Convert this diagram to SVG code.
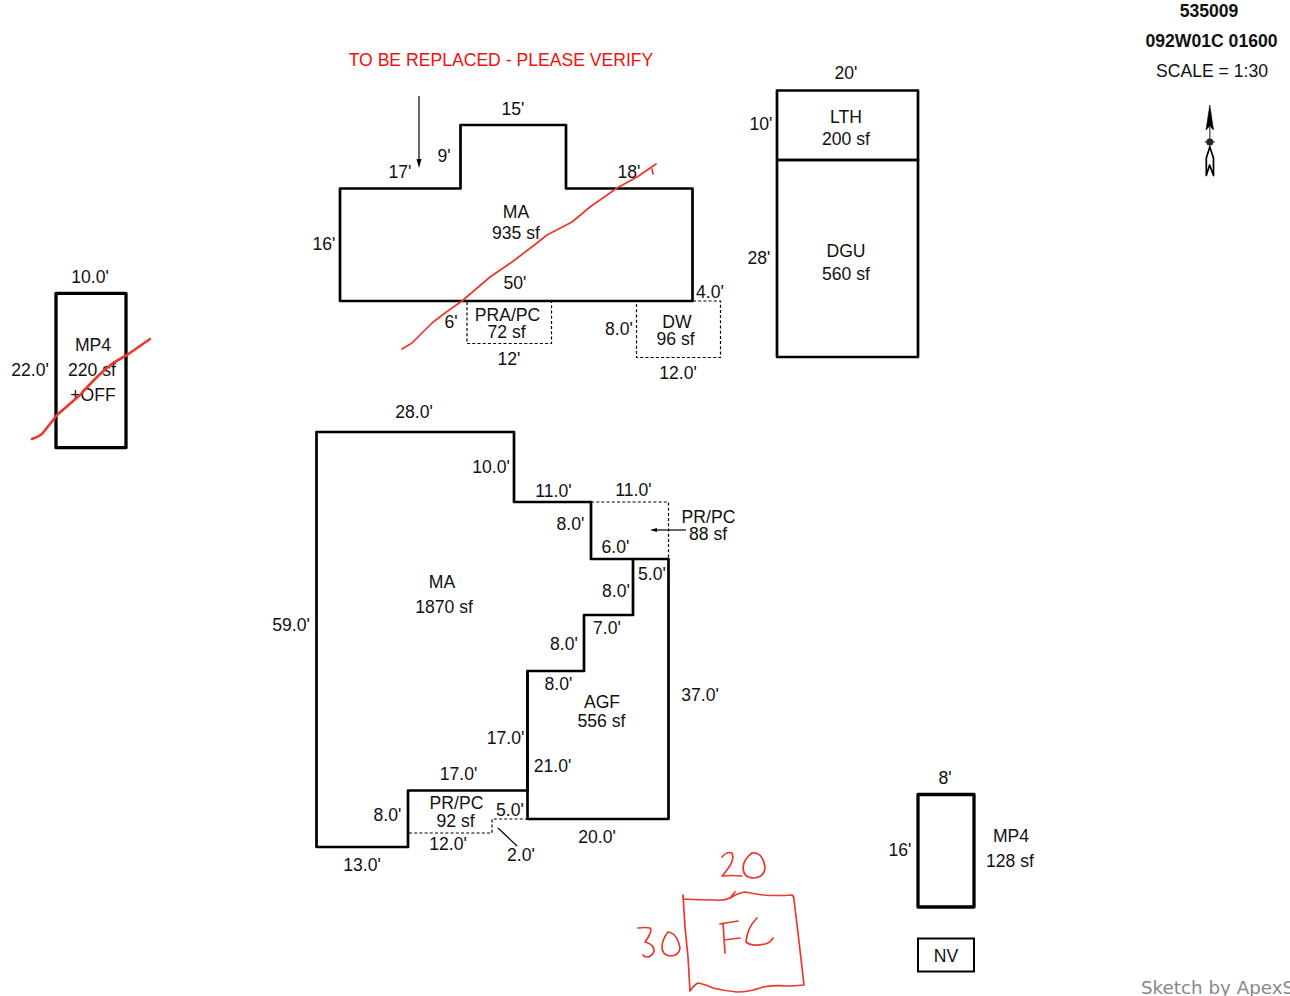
<svg xmlns="http://www.w3.org/2000/svg" width="1290" height="996" viewBox="0 0 1290 996">
<style>
text{font-family:"Liberation Sans",Arial,sans-serif;font-size:17.6px;fill:#111;text-anchor:middle}
.b{font-weight:bold}
.w{fill:none;stroke:#000;stroke-width:2.700;stroke-linejoin:round;stroke-linecap:round}
.d{fill:none;stroke:#000;stroke-width:1.200;stroke-dasharray:3 2.200}
.t{fill:none;stroke:#000;stroke-width:1.200}
.r{fill:none;stroke:#e8392c;stroke-width:1.700;stroke-linecap:round;stroke-linejoin:round}
</style>
<rect width="1290" height="996" fill="#fff"/>
<g id="header">
<text class="b" x="1209" y="17">535009</text>
<text class="b" x="1211.500" y="47">092W01C 01600</text>
<text x="1212" y="77">SCALE = 1:30</text>
<text x="501" y="66" style="fill:#f01010">TO BE REPLACED - PLEASE VERIFY</text>
</g>
<g id="north">
<path d="M1209.800 105L1206 130L1209.800 126L1213.500 130Z" fill="#000" stroke="#000" stroke-width=".6"/>
<path d="M1209.800 126V148" stroke="#555" stroke-width="1.400"/>
<circle cx="1209.800" cy="142" r="3.600" fill="#222"/>
<path d="M1204.500 142H1215" stroke="#333" stroke-width="1"/>
<path d="M1209.800 147L1206.300 158V175.500L1209.600 165L1213.500 175.500V158Z" fill="#fff" stroke="#000" stroke-width="1.700" stroke-linejoin="round"/>
</g>
<g id="connectors">
<path class="t" d="M419 96V162"/>
<path d="M419 168L416.500 159H421.500Z" fill="#000"/>
<path class="t" d="M686 530H656"/>
<path d="M650 530L657 528V532Z" fill="#000"/>
<path class="t" d="M517 846L498 828"/>
</g>
<g id="ma-top">
<path class="w" d="M340 188.500H460.500V125H566V188.500H692.500V301H340Z"/>
<text x="516" y="218">MA</text><text x="516" y="239">935 sf</text>
<text x="513" y="115">15'</text><text x="444" y="162">9'</text><text x="400" y="178">17'</text>
<text x="629" y="178">18'</text><text x="324" y="250">16'</text><text x="515" y="289">50'</text>
</g>
<g id="pra-pc">
<path class="d" d="M467 302V343.500H551.500V302"/>
<text x="507.500" y="321">PRA/PC</text><text x="506.500" y="338">72 sf</text>
<text x="451" y="328">6'</text><text x="509" y="365">12'</text>
</g>
<g id="dw">
<path class="d" d="M693 301H720.500V357.500H636.500V302"/>
<text x="677" y="328">DW</text><text x="675.500" y="345">96 sf</text>
<text x="710" y="298">4.0'</text><text x="619" y="335">8.0'</text><text x="678" y="379">12.0'</text>
</g>
<g id="lth">
<path class="w" d="M777 90.500H918V160H777Z"/>
<text x="846" y="123">LTH</text><text x="846" y="145">200 sf</text>
<text x="846" y="79">20'</text><text x="761" y="130">10'</text>
</g>
<g id="dgu">
<path class="w" d="M777 160H918V357H777Z"/>
<text x="846" y="257">DGU</text><text x="846" y="280">560 sf</text>
<text x="759" y="264">28'</text>
</g>
<g id="mp4-left">
<path d="M56 293.300H126V447.700H56Z" fill="none" stroke="#000" stroke-width="3.300" stroke-linejoin="round"/>
<text x="93" y="351">MP4</text><text x="92" y="376">220 sf</text><text x="93" y="401">+OFF</text>
<text x="90" y="283">10.0'</text><text x="30" y="376">22.0'</text>
</g>
<g id="ma-bottom">
<path class="w" d="M316.500 432H514V502H591V559H633V615H584V671H527.500V790.500H408V847H316.500Z"/>
<text x="442" y="588">MA</text><text x="444" y="613">1870 sf</text>
<text x="414" y="418">28.0'</text><text x="491" y="473">10.0'</text><text x="553.500" y="497">11.0'</text>
<text x="570.500" y="530">8.0'</text><text x="615.500" y="553">6.0'</text><text x="616" y="597">8.0'</text>
<text x="607" y="634">7.0'</text><text x="564" y="650">8.0'</text><text x="558.500" y="690">8.0'</text>
<text x="505.500" y="744">17.0'</text><text x="291" y="631">59.0'</text><text x="387.500" y="821">8.0'</text><text x="362" y="871">13.0'</text>
</g>
<g id="pr-pc-top">
<path class="d" d="M591 502H668.500V559"/>
<text x="708.500" y="523">PR/PC</text><text x="708" y="540">88 sf</text>
<text x="633.500" y="496">11.0'</text>
</g>
<g id="agf">
<path class="w" d="M633 559H668.500V819H527.500V671"/>
<text x="602" y="708">AGF</text><text x="601.500" y="727">556 sf</text>
<text x="652" y="580">5.0'</text><text x="700" y="701">37.0'</text><text x="552.500" y="772">21.0'</text><text x="597" y="843">20.0'</text>
</g>
<g id="pr-pc-bottom">
<path class="d" d="M409 833H492V819H527"/>
<text x="456.500" y="809">PR/PC</text><text x="455.500" y="827">92 sf</text>
<text x="458.500" y="780">17.0'</text><text x="510" y="816">5.0'</text><text x="448" y="850">12.0'</text><text x="521" y="861">2.0'</text>
</g>
<g id="mp4-right">
<path d="M918 794.500H974V907H918Z" fill="none" stroke="#000" stroke-width="3.300" stroke-linejoin="round"/>
<text x="1011" y="842">MP4</text><text x="1010" y="867">128 sf</text>
<text x="945" y="784">8'</text><text x="900" y="856">16'</text>
</g>
<g id="nv">
<rect x="918" y="938.500" width="56" height="33" fill="none" stroke="#000" stroke-width="2"/>
<text x="946" y="962">NV</text>
</g>
<text x="1141" y="994" style="text-anchor:start;font-family:'DejaVu Sans',sans-serif;fill:#888;font-size:18.300px">Sketch by ApexSketch</text>
<g id="redlines">
<path class="r" d="M402 349L412 343L432 323L445 313L462 301L476 289L490 277L512 262L537 243L547 235L572 222L590 207L617 188L637 177L656 164M652 169L653 174"/>
<path class="r" style="stroke-width:2.600" d="M32 439Q38 437 42 434Q50 424 57 415L80 395Q90 384 97 377Q105 369 113 363L127 355L150 339"/>
<path class="r" d="M683 895L683 899Q700 900 715 900Q724 901 730 898Q738 893 745 892Q755 894 763 895Q778 896 792 895Q794 896 794 900L798 933L804 985Q795 986 787 986Q775 985 763 987Q750 992 737 992Q725 991 713 988Q705 984 698 983Q694 985 690 991L688 957L685 927Z"/>
<path class="r" d="M730 898L735 892"/>
<path class="r" d="M723 923L725 953M720 924L738 921M724 940L740 938"/>
<path class="r" d="M757 918Q747 928 746 942Q752 947 765 944Q770 943 773 938"/>
<path class="r" d="M722 857Q727 851 732 853Q735 860 727 870Q724 874 722 876Q732 875 742 876"/>
<path class="r" d="M752 853Q762 851 765 867Q765 877 754 878Q743 878 743 867Q744 859 752 853Z"/>
<path class="r" d="M638 928Q646 927 650 928Q653 931 645 942Q654 944 654 951Q652 957 647 957Q644 957 643 955"/>
<path class="r" d="M668 932Q677 933 680 948Q679 956 670 956Q662 955 662 947Q662 940 668 932Z"/>
</g>
</svg>
